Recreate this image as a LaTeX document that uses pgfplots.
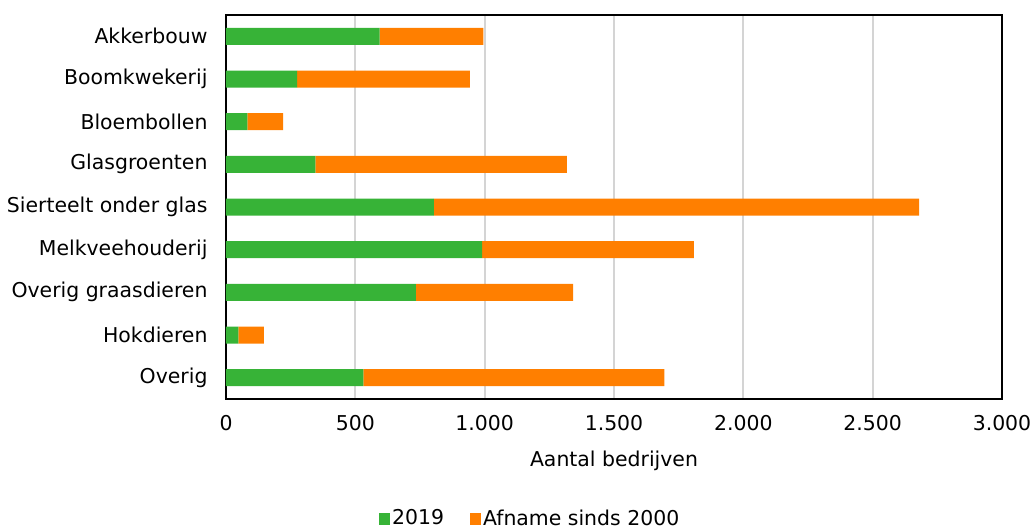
\documentclass[border=0pt]{standalone}
\usepackage{pgfplots}
\pgfplotsset{compat=1.18}
\usepackage{fontspec}
\setmainfont{DejaVu Sans}
\definecolor{cgreen}{HTML}{37B337}
\definecolor{corange}{HTML}{FF7F00}
\definecolor{cgrid}{HTML}{D4D4D4}
\begin{document}
\begin{tikzpicture}
\useasboundingbox (-226bp,-130bp) rectangle (805bp,399bp);
\begin{axis}[
 at={(0,0)}, anchor=south west,
 scale only axis, width=776bp, height=384bp,
 xbar stacked, bar width=17bp,
 xmin=0, xmax=3000, ymin=-0.5, ymax=8.5, y dir=reverse,
 xtick={0,500,...,3000},
 ytick={0,...,8},
 yticklabels={Akkerbouw,Boomkwekerij,Bloembollen,Glasgroenten,Sierteelt onder glas,Melkveehouderij,Overig graasdieren,Hokdieren,Overig},
 major tick length=0pt,
 xmajorgrids, grid style={cgrid, line width=2.2bp},
 axis line style={line width=1.8bp, black},
 tick label style={font=\fontsize{20.5}{23}\selectfont},
 xticklabel style={yshift=-13bp},
 yticklabel style={xshift=-15bp},
 xlabel={Aantal bedrijven},
 xlabel style={font=\fontsize{20.5}{23}\selectfont, at={(axis description cs:0.5,-0.161)}, anchor=center},
 legend style={draw=none, fill=none, font=\fontsize{20.5}{23}\selectfont, legend columns=2,
   at={(0.392,-0.31)}, anchor=center,
   /tikz/every even column/.append style={column sep=24bp}},
 legend image code/.code={\fill[#1] (-4bp,-7bp) rectangle (7bp,5bp);},
 /pgf/number format/.cd, 1000 sep={.}, assume math mode=true,
]
\addplot[fill=cgreen, draw=none] coordinates {
 (594,0) (275,1) (83,2) (346,3) (804,4) (990,5) (734,6) (48,7) (531,8)};
\addplot[fill=corange, draw=none] coordinates {
 (401,0) (668,1) (138,2) (972,3) (1876,4) (819,5) (608,6) (98,7) (1164,8)};
\legend{2019, Afname sinds 2000}
\draw[line width=1.8bp, black] (rel axis cs:0,0) rectangle (rel axis cs:1,1);
\end{axis}
\end{tikzpicture}
\end{document}
